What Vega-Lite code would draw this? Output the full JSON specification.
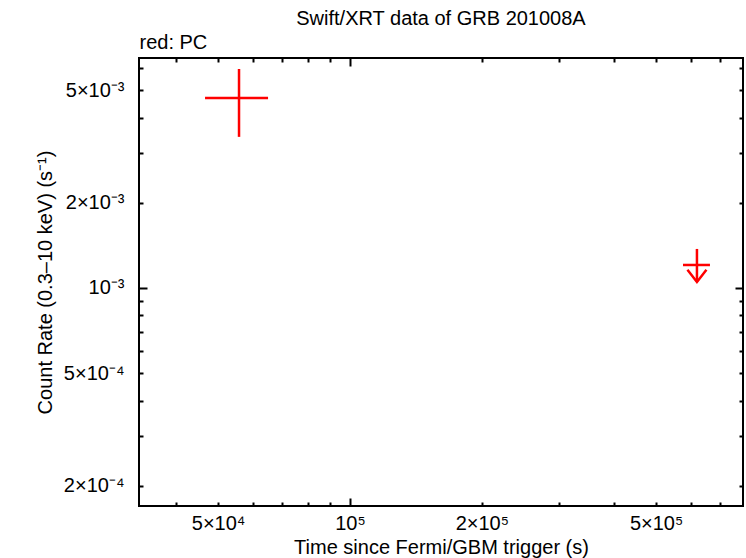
{
  "$schema": "https://vega.github.io/schema/vega-lite/v6.json",
  "autosize": {"type": "none"},
  "width": 604,
  "height": 448,
  "padding": {"left": 139, "top": 58, "right": 3, "bottom": 52},
  "background": "white",
  "title": {"text": "Swift/XRT data of GRB 201008A", "fontSize": 20, "fontWeight": "normal", "font": "Liberation Sans", "anchor": "middle", "frame": "group", "offset": 3, "color": "black"},
  "config": {
    "font": "Liberation Sans",
    "view": {"stroke": "black", "strokeWidth": 2},
    "axis": {"domain": false, "grid": false, "tickColor": "black", "tickWidth": 2, "labelColor": "black", "titleColor": "black", "labelFont": "Liberation Sans", "titleFont": "Liberation Sans", "labelFontSize": 20, "titleFontSize": 20, "titleFontWeight": "normal"}
  },
  "data": {"values": [
    {"type": "PC", "t": 55800, "tlo": 46670, "thi": 65000, "rate": 0.00469, "rlo": 0.00342, "rhi": 0.00594, "ul": false},
    {"type": "UL", "t": 619800, "tlo": 575900, "thi": 663700, "rate": 0.001206, "rlo": 0.00105, "rhi": 0.001374, "ul": true}
  ]},
  "resolve": {"axis": {"x": "independent", "y": "independent"}},
  "layer": [
    {
      "mark": {"type": "rule", "color": "#ff0000", "strokeWidth": 2.5},
      "encoding": {
        "x": {"field": "tlo", "type": "quantitative", "scale": {"type": "log", "domain": [32980, 789600], "nice": false},
          "axis": {"orient": "bottom", "ticks": false, "labelPadding": 7, "values": [50000, 100000, 200000, 500000],
            "labelExpr": "datum.value < 60000 ? '5×10⁴' : datum.value < 150000 ? '10⁵' : datum.value < 300000 ? '2×10⁵' : '5×10⁵'",
            "title": "Time since Fermi/GBM trigger (s)", "titlePadding": 4}},
        "x2": {"field": "thi"},
        "y": {"field": "rate", "type": "quantitative", "scale": {"type": "log", "domain": [0.0001697, 0.006497], "nice": false},
          "axis": {"orient": "left", "ticks": false, "labelPadding": 15, "values": [0.0002, 0.0005, 0.001, 0.002, 0.005],
            "labelExpr": "datum.value < 0.0003 ? '2×10⁻⁴' : datum.value < 0.0007 ? '5×10⁻⁴' : datum.value < 0.0015 ? '10⁻³' : datum.value < 0.003 ? '2×10⁻³' : '5×10⁻³'",
            "title": "Count Rate (0.3–10 keV) (s⁻¹)", "titlePadding": 8}}
      }
    },
    {
      "mark": {"type": "rule", "color": "#ff0000", "strokeWidth": 2.5},
      "encoding": {
        "x": {"field": "t", "type": "quantitative", "scale": {"type": "log"},
          "axis": {"orient": "bottom", "labels": false, "tickSize": -8, "values": [100000], "title": null}},
        "y": {"field": "rlo", "type": "quantitative", "scale": {"type": "log"},
          "axis": {"orient": "left", "labels": false, "tickSize": -8, "values": [0.001], "title": null}},
        "y2": {"field": "rhi"}
      }
    },
    {
      "transform": [{"filter": "datum.ul"}],
      "mark": {"type": "point", "shape": "M-1,-1.3L0,0L1,-1.3", "size": 361, "filled": false, "stroke": "#ff0000", "strokeWidth": 2.5, "opacity": 1},
      "encoding": {
        "x": {"field": "t", "type": "quantitative", "scale": {"type": "log"},
          "axis": {"orient": "bottom", "labels": false, "tickSize": -4, "values": [40000, 50000, 60000, 70000, 80000, 90000, 200000, 300000, 400000, 500000, 600000, 700000], "title": null}},
        "y": {"field": "rlo", "type": "quantitative", "scale": {"type": "log"},
          "axis": {"orient": "left", "labels": false, "tickSize": -4, "values": [0.0002, 0.0003, 0.0004, 0.0005, 0.0006, 0.0007, 0.0008, 0.0009, 0.002, 0.003, 0.004, 0.005, 0.006], "title": null}}
      }
    },
    {
      "mark": {"type": "point", "opacity": 0},
      "encoding": {
        "x": {"field": "t", "type": "quantitative", "scale": {"type": "log"},
          "axis": {"orient": "top", "labels": false, "tickSize": -8, "values": [100000], "title": "red: PC", "titleAnchor": "start", "titleAlign": "left", "titlePadding": 5}},
        "y": {"field": "rate", "type": "quantitative", "scale": {"type": "log"},
          "axis": {"orient": "right", "labels": false, "tickSize": -8, "values": [0.001], "title": null}}
      }
    },
    {
      "mark": {"type": "point", "opacity": 0},
      "encoding": {
        "x": {"field": "t", "type": "quantitative", "scale": {"type": "log"},
          "axis": {"orient": "top", "labels": false, "tickSize": -4, "values": [40000, 50000, 60000, 70000, 80000, 90000, 200000, 300000, 400000, 500000, 600000, 700000], "title": null}},
        "y": {"field": "rate", "type": "quantitative", "scale": {"type": "log"},
          "axis": {"orient": "right", "labels": false, "tickSize": -4, "values": [0.0002, 0.0003, 0.0004, 0.0005, 0.0006, 0.0007, 0.0008, 0.0009, 0.002, 0.003, 0.004, 0.005, 0.006], "title": null}}
      }
    }
  ]
}
